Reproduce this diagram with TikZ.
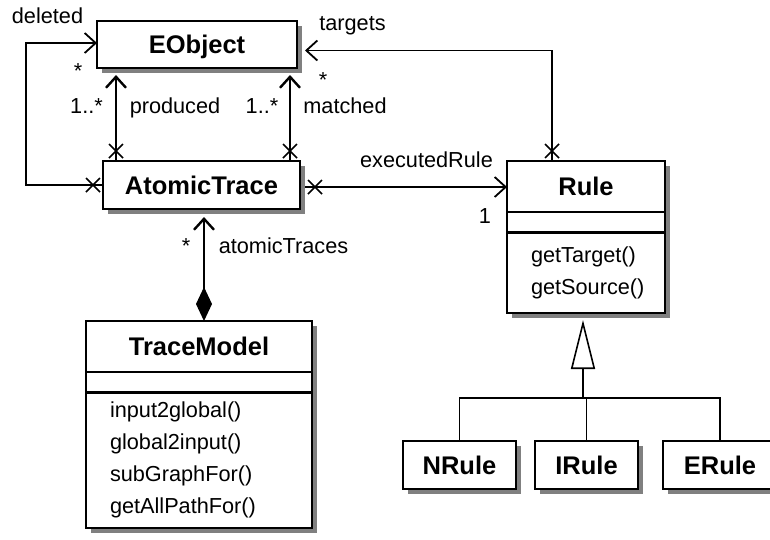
\documentclass[tikz,border=0pt]{standalone}
\usepackage{fontspec}
\setmainfont{Liberation Sans}
\usetikzlibrary{arrows.meta,decorations.markings,positioning}

\newcommand{\lblfont}{\fontsize{21.7}{32}\selectfont}
\newcommand{\ttlfont}{\fontsize{25.5}{30}\selectfont\bfseries}

\tikzset{
  umlbox/.style={draw,line width=1.8pt,fill=white,inner sep=0pt,outer sep=0pt},
  classtitle/.style={umlbox,font=\ttlfont,text depth=0pt},
  opsbox/.style={umlbox,font=\lblfont,align=left,inner xsep=24pt},
  boxshadow/.style={fill=black!50},
  lbl/.style={font=\lblfont,inner sep=0pt,anchor=base},
  assoc/.style={line width=1.8pt},
  strong/.style={line width=2.4pt},
  gen/.style={line width=1.6pt},
  navend/.style={-{Straight Barb[length=11pt,width=20pt]}},
  xstart/.style={postaction={decorate,decoration={markings,
    mark=at position 10pt with {\draw[line width=1.6pt,-] (-7pt,-7pt)--(7pt,7pt) (-7pt,7pt)--(7pt,-7pt);}}}}
}

\begin{document}
\begin{tikzpicture}[x=1pt,y=-1pt]
  \useasboundingbox (0,0) rectangle (770,539);
  % shadows, drawn first at the box places
  \foreach \sx/\sy/\sw/\sh in {197/44.5/200/47, 201.5/185/197/48, 586/237/158/152,
      199/424.5/226/207, 459.5/465/113/48, 586.5/465/103/48, 720/465/114/48}
    \fill[boxshadow] (\sx-\sw/2+5,\sy-\sh/2+5) rectangle (\sx+\sw/2+5,\sy+\sh/2+5);
  % classes
  \node[classtitle,minimum width=200pt,minimum height=47pt] (eo) at (197,44.5) {EObject};
  \node[classtitle,minimum width=197pt,minimum height=48pt] (at) at (201.5,185) {AtomicTrace};
  \node[classtitle,minimum width=158pt,minimum height=51pt] (ru) at (586,186.5) {Rule};
  \node[umlbox,minimum width=158pt,minimum height=20pt,below=0pt of ru] (ruattr) {};
  \node[opsbox,text width=110pt,minimum height=81pt,below=0pt of ruattr] (ruops) {getTarget()\\getSource()};
  \draw[line width=3pt] (ruops.north west) -- (ruops.north east);
  \node[classtitle,minimum width=226pt,minimum height=51pt] (tm) at (199,346.5) {TraceModel};
  \node[umlbox,minimum width=226pt,minimum height=20pt,below=0pt of tm] (tmattr) {};
  \node[opsbox,text width=178pt,minimum height=136pt,below=0pt of tmattr] (tmops) {input2global()\\global2input()\\subGraphFor()\\getAllPathFor()};
  \draw[line width=3pt] (tmops.north west) -- (tmops.north east);
  \node[classtitle,minimum width=113pt,minimum height=48pt] (nr) at (459.5,465) {NRule};
  \node[classtitle,minimum width=103pt,minimum height=48pt] (ir) at (586.5,465) {IRule};
  \node[classtitle,minimum width=114pt,minimum height=48pt] (er) at (720,465) {ERule};

  % associations
  \draw[assoc,strong,xstart,navend] ([xshift=-85.5pt]at.north) -- ([xshift=-81pt,yshift=-7pt]eo.south);
  \draw[assoc,strong,xstart,navend] ([xshift=88.5pt]at.north) -- ([xshift=93pt,yshift=-7pt]eo.south);
  \draw[assoc,xstart,navend] (at.west) -- ++(-77,0) |- ([yshift=1.5pt]eo.west);
  \draw[assoc,xstart,navend] ([xshift=-34pt]ru.north) |- ([xshift=8pt,yshift=-6pt]eo.east);
  \draw[assoc,xstart,navend] ([xshift=5pt,yshift=-2pt]at.east) -- ([yshift=-2pt]at.east -| ru.west);
  \draw[assoc,strong,{Diamond[length=34pt,width=16pt]}-{Straight Barb[length=11pt,width=20pt]}]
    ([xshift=5pt]tm.north) -- ([xshift=2.5pt,yshift=-8pt]at.south);

  % generalization
  \coordinate (gj) at (583,398);
  \draw[gen,-{Triangle[open,fill=white,length=49pt,width=24pt]}] (gj) -- ([yshift=-7pt]ruops.south -| gj);
  \draw[gen] (nr.north) |- (gj) -| (er.north);
  \draw[gen] (ir.north) -- (ir.north |- gj);

  % labels
  \node[lbl] (ldel) at (47.5,23) {deleted};
  \node[lbl] (mdel) at (78,78) {*};
  \node[lbl] (mprod) at (86.5,113) {1..*};
  \node[lbl] (lprod) at (175,113) {produced};
  \node[lbl] (mmat) at (262,113) {1..*};
  \node[lbl] (lmat) at (345,113) {matched};
  \node[lbl] (mtar) at (323,87) {*};
  \node[lbl] (ltar) at (352.5,30) {targets};
  \node[lbl] (lexe) at (426.5,167) {executedRule};
  \node[lbl] (mexe) at (485,223) {1};
  \node[lbl] (mats) at (186,253) {*};
  \node[lbl] (lats) at (283.5,253) {atomicTraces};
\end{tikzpicture}
\end{document}
